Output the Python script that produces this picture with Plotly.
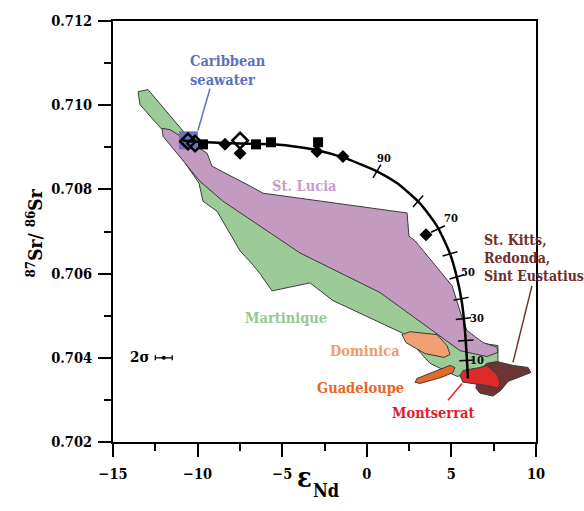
import math
import plotly.graph_objects as go

# ---- Regional fields: epsilon-Nd vs 87Sr/86Sr outlines ----
martinique_eps = [-13.52, -12.93, -10.74, -10.15, -9.27, -6.90, 1.96, 6.57, 7.75, 7.75, 6.99,
                  5.33, 3.73, 2.14, -2.00, -3.36, -5.60, -6.31, -6.78, -7.49, -8.85, -9.68,
                  -9.92, -12.10, -13.40]
martinique_sr = [0.71032, 0.71037, 0.70933, 0.70902, 0.70838, 0.70772, 0.70626, 0.70436, 0.70429,
                 0.70389, 0.70365, 0.70356, 0.70387, 0.70458, 0.70536, 0.70578, 0.70559, 0.70600,
                 0.70623, 0.70654, 0.70748, 0.70772, 0.70815, 0.70942, 0.71001]

stlucia_eps = [-12.10, -11.63, -9.44, -9.15, -6.90, -6.13, 2.38, 2.49, 2.85, 5.04, 5.63, 5.92,
               6.87, 7.70, 7.75, 7.10, 5.51, 0.78, -3.95, -8.50, -9.86, -12.04]
stlucia_sr = [0.70945, 0.70942, 0.70886, 0.70855, 0.70808, 0.70791, 0.70744, 0.70689, 0.70678,
              0.70571, 0.70496, 0.70465, 0.70436, 0.70425, 0.70413, 0.70403, 0.70417, 0.70555,
              0.70649, 0.70772, 0.70819, 0.70926]

dominica_eps = [2.08, 2.55, 4.15, 4.74, 4.92, 4.56, 3.44, 2.32]
dominica_sr = [0.70455, 0.70462, 0.70455, 0.70429, 0.70408, 0.70401, 0.70410, 0.70436]

guadeloupe_eps = [2.85, 2.97, 4.92, 5.21, 5.09, 4.44, 3.14]
guadeloupe_sr = [0.70342, 0.70351, 0.70382, 0.70377, 0.70365, 0.70354, 0.70339]

stkitts_eps = [6.57, 7.10, 7.70, 8.64, 9.53, 9.70, 8.35, 7.93, 7.46, 6.69, 6.45]
stkitts_sr = [0.70365, 0.70387, 0.70391, 0.70382, 0.70377, 0.70365, 0.70344, 0.70323,
              0.70309, 0.70316, 0.70328]

montserrat_eps = [5.51, 5.69, 6.69, 7.10, 7.75, 7.87, 7.75, 6.99, 6.22, 5.69]
montserrat_sr = [0.70358, 0.70370, 0.70377, 0.70382, 0.70358, 0.70339, 0.70328, 0.70335,
                 0.70339, 0.70342]

# Caribbean seawater box (eps range, Sr range)
seawater_eps = [-11.10, -9.98]
seawater_sr = [0.70895, 0.70938]

# ---- Mixing curve and its percentage ticks ----
curve_eps = [-10.86, -9.44, -7.49, -5.54, -3.95, -2.94, -1.41, 0.60, 1.78, 3.14, 4.15, 4.92,
             5.33, 5.63, 5.80, 5.92, 5.98]
curve_sr = [0.70916, 0.70912, 0.70909, 0.70907, 0.70900, 0.70893, 0.70876, 0.70843, 0.70815,
            0.70767, 0.70713, 0.70647, 0.70590, 0.70529, 0.70465, 0.70394, 0.70351]

mix_pct = [90, 80, 70, 60, 50, 40, 30, 20, 10]
mix_eps = [0.60, 3.03, 4.21, 4.92, 5.33, 5.57, 5.71, 5.85, 5.92]
mix_sr = [0.70843, 0.70772, 0.70706, 0.70647, 0.70592, 0.70540, 0.70493, 0.70441, 0.70394]

mix_label_text = ["90", "70", "50", "30", "10"]
mix_label_eps = [1.02, 4.98, 5.98, 6.51, 6.51]
mix_label_sr = [0.70874, 0.70732, 0.70602, 0.70493, 0.70394]

# ---- Measured samples ----
square_eps = [-9.68, -6.55, -5.66, -2.88]
square_sr = [0.70907, 0.70907, 0.70912, 0.70912]
diamond_eps = [-8.38, -7.49, -2.94, -1.41, 3.50]
diamond_sr = [0.70907, 0.70886, 0.70890, 0.70878, 0.70692]
open_diamond_eps = [-10.57, -10.15, -7.49]
open_diamond_sr = [0.70914, 0.70909, 0.70916]

# 2-sigma analytical uncertainty
sigma_eps = [-12.0]
sigma_sr = [0.704]
sigma_err = [0.5]

# Label connector lines
seawater_link_eps = [-9.27, -9.98]
seawater_link_sr = [0.71039, 0.70940]
montserrat_link_eps = [5.63, 4.80]
montserrat_link_sr = [0.70339, 0.70299]
stkitts_link_eps = [9.76, 8.64]
stkitts_link_sr = [0.70571, 0.70389]

X_TICKS = [-15, -10, -5, 0, 5, 10]
Y_TICKS = [0.702, 0.704, 0.706, 0.708, 0.710, 0.712]
X_RANGE = [-15, 10]
Y_RANGE = [0.702, 0.712]

W, H = 584, 511
ML, MR, MT, MB = 113, 48, 18, 69
FONT = "DejaVu Serif Condensed, DejaVu Serif"

fig = go.Figure()


def field(xs, ys, color):
    fig.add_trace(go.Scatter(
        x=xs + xs[:1], y=ys + ys[:1], mode="lines", fill="toself",
        fillcolor=color, line=dict(color="#3a3a3a", width=1),
        hoverinfo="skip", showlegend=False))


field(martinique_eps, martinique_sr, "#9ccb98")
field(stlucia_eps, stlucia_sr, "#c39ac0")
field(dominica_eps, dominica_sr, "#f0a072")
field(guadeloupe_eps, guadeloupe_sr, "#e8682a")
field(stkitts_eps, stkitts_sr, "#6e3434")
field(montserrat_eps, montserrat_sr, "#e02a2a")

# seawater box
sw_x = [seawater_eps[0], seawater_eps[1], seawater_eps[1], seawater_eps[0], seawater_eps[0]]
sw_y = [seawater_sr[0], seawater_sr[0], seawater_sr[1], seawater_sr[1], seawater_sr[0]]
fig.add_trace(go.Scatter(x=sw_x, y=sw_y, mode="lines", fill="toself",
                         fillcolor="rgba(98,114,190,0.95)", line=dict(width=0),
                         hoverinfo="skip", showlegend=False))


def link(xs, ys, color):
    fig.add_trace(go.Scatter(x=xs, y=ys, mode="lines", line=dict(color=color, width=1.5),
                             hoverinfo="skip", showlegend=False))


link(seawater_link_eps, seawater_link_sr, "#6070c0")
link(montserrat_link_eps, montserrat_link_sr, "#e02a2a")
link(stkitts_link_eps, stkitts_link_sr, "#6e3434")

# mixing curve
fig.add_trace(go.Scatter(x=curve_eps, y=curve_sr, mode="lines",
                         line=dict(color="black", width=2.5, shape="spline", smoothing=0.6),
                         hoverinfo="skip", showlegend=False))

# tick marks across the curve, rotated to sit perpendicular to it
sx = (W - ML - MR) / (X_RANGE[1] - X_RANGE[0])
sy = (H - MT - MB) / (Y_RANGE[1] - Y_RANGE[0])


def tangent_angle(x, y):
    best, best_d = 0, 1e18
    for i in range(len(curve_eps) - 1):
        mx = (curve_eps[i] + curve_eps[i + 1]) / 2
        my = (curve_sr[i] + curve_sr[i + 1]) / 2
        d = ((mx - x) * sx) ** 2 + ((my - y) * sy) ** 2
        if d < best_d:
            best, best_d = i, d
    dx = (curve_eps[best + 1] - curve_eps[best]) * sx
    dy = -(curve_sr[best + 1] - curve_sr[best]) * sy
    return math.degrees(math.atan2(dy, dx))


tick_angles = [tangent_angle(x, y) for x, y in zip(mix_eps, mix_sr)]
fig.add_trace(go.Scatter(x=mix_eps, y=mix_sr, mode="markers",
                         marker=dict(symbol="line-ns", size=11, angle=tick_angles,
                                     line=dict(color="black", width=1.5)),
                         text=[f"{p}%" for p in mix_pct], hoverinfo="text", showlegend=False))

# samples
fig.add_trace(go.Scatter(x=square_eps, y=square_sr, mode="markers",
                         marker=dict(symbol="square", size=10, color="black"),
                         showlegend=False))
fig.add_trace(go.Scatter(x=diamond_eps, y=diamond_sr, mode="markers",
                         marker=dict(symbol="diamond", size=10, color="black"),
                         showlegend=False))
fig.add_trace(go.Scatter(x=open_diamond_eps, y=open_diamond_sr, mode="markers",
                         marker=dict(symbol="diamond-open", size=12, color="black",
                                     line=dict(width=2.5)),
                         showlegend=False))

# 2 sigma bar
fig.add_trace(go.Scatter(x=sigma_eps, y=sigma_sr, mode="markers",
                         marker=dict(size=4, color="black"),
                         error_x=dict(type="data", array=sigma_err, color="black",
                                      thickness=1.3, width=2.5),
                         showlegend=False))

ann = []


def label(text, x, y, color, size=14.5, xanchor="center", align="center"):
    ann.append(dict(x=x, y=y, xref="x", yref="y", text="<b>" + text + "</b>",
                    showarrow=False, xanchor=xanchor, yanchor="middle", align=align,
                    font=dict(family=FONT, size=size, color=color)))


label("Caribbean<br>seawater", -10.57, 0.71084, "#5f6fbf", xanchor="left", align="left")
label("St. Lucia", -3.71, 0.70810, "#c79ecb")
label("Martinique", -4.78, 0.70496, "#93c993")
label("Dominica", -0.11, 0.70418, "#f09a6a")
label("Guadeloupe", -0.40, 0.70330, "#e8662a")
label("Montserrat", 3.97, 0.70271, "#e0202a")
label("St. Kitts,<br>Redonda,<br>Sint Eustatius", 6.81, 0.70637, "#6e2e2e",
      size=14, xanchor="left", align="left")
label("2σ", -12.75, 0.70401, "black", size=15, xanchor="right")

for t, x, y in zip(mix_label_text, mix_label_eps, mix_label_sr):
    label(t, x, y, "black", size=11)

# axis titles
ann.append(dict(x=(304 - ML) / (W - ML - MR), y=(H - MB - 495) / (H - MT - MB),
                xref="paper", yref="paper", text="<b>ε</b>", showarrow=False,
                font=dict(family=FONT, size=27, color="black")))
ann.append(dict(x=(326 - ML) / (W - ML - MR), y=(H - MB - 503) / (H - MT - MB),
                xref="paper", yref="paper", text="<b>Nd</b>", showarrow=False,
                font=dict(family=FONT, size=18, color="black")))
ann.append(dict(x=(21 - ML) / (W - ML - MR), y=(H - MB - 232) / (H - MT - MB),
                xref="paper", yref="paper", text="<b><sup>87</sup>Sr/ <sup>86</sup>Sr</b>",
                textangle=-90, showarrow=False,
                font=dict(family=FONT, size=19, color="black")))

axis_common = dict(ticks="outside", ticklen=13, tickwidth=2, tickcolor="black",
                   showline=True, linewidth=2, linecolor="black", mirror=True,
                   showgrid=False, zeroline=False,
                   tickfont=dict(family=FONT, size=14.5, color="black", weight="bold"))

fig.update_xaxes(range=X_RANGE, tickvals=X_TICKS, ticklabelstandoff=5,
                 minor=dict(dtick=2.5, ticks="outside", ticklen=7, tickwidth=2,
                            tickcolor="black", showgrid=False),
                 **axis_common)
fig.update_yaxes(range=Y_RANGE, tickvals=Y_TICKS, tickformat=".3f", ticklabelstandoff=3,
                 minor=dict(dtick=0.001, ticks="outside", ticklen=7, tickwidth=2,
                            tickcolor="black", showgrid=False),
                 **axis_common)

fig.update_layout(width=W, height=H, margin=dict(l=ML, r=MR, t=MT, b=MB),
                  plot_bgcolor="white", paper_bgcolor="white",
                  annotations=ann, showlegend=False)

fig.write_html("out.html")
